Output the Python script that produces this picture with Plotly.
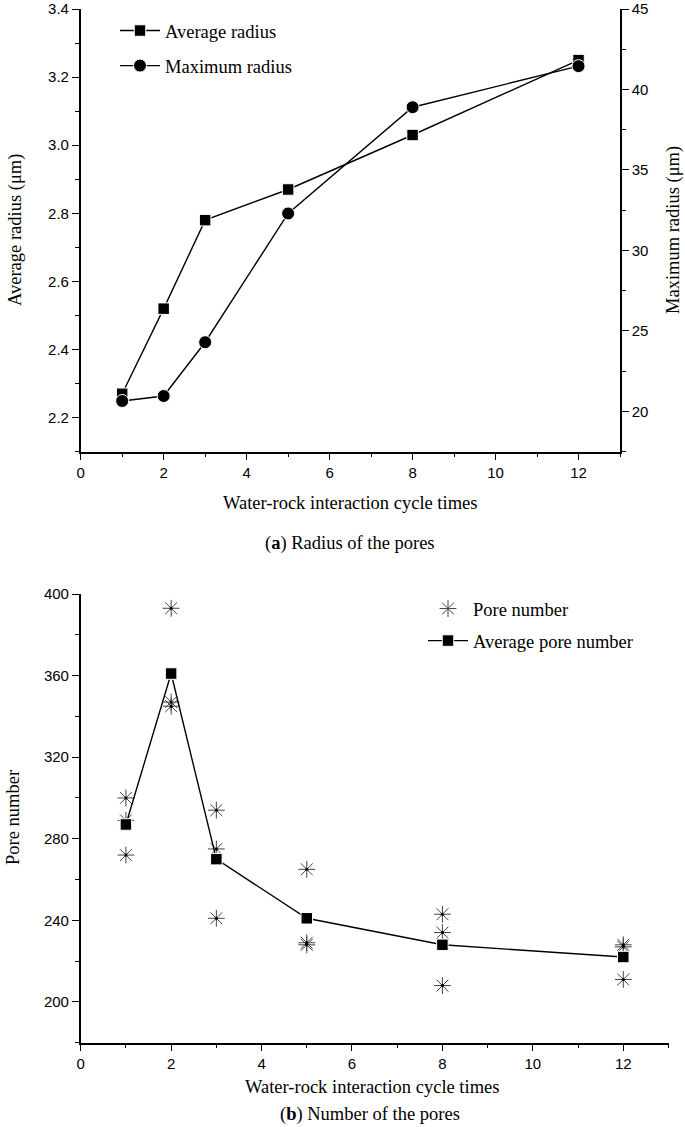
import plotly.graph_objects as go

W, H = 685, 1127

# ---------------- data ----------------
cycles = [1, 2, 3, 5, 8, 12]
avg_radius = [2.27, 2.52, 2.78, 2.87, 3.03, 3.25]        # µm, left axis
max_radius = [20.65, 20.96, 24.3, 32.3, 38.9, 41.45]     # µm, right axis

pore_cycles = [1, 1, 1, 2, 2, 2, 3, 3, 3, 5, 5, 5, 8, 8, 8, 12, 12, 12]
pore_number = [300, 289, 272, 393, 347, 345, 294, 275, 241,
               265, 229, 228, 243, 234, 208, 228, 227, 211]
avg_pore_number = [287, 361, 270, 241, 228, 222]

x_title = "Water-rock interaction cycle times"
caption_a = "(<b>a</b>) Radius of the pores"
caption_b = "(<b>b</b>) Number of the pores"


def px(x):
    return x / W


def py(y):
    return 1 - y / H


SERIF = "Liberation Serif, Times New Roman, serif"
SANS = "Liberation Sans, Arial, sans-serif"
TICKFONT = dict(family=SANS, size=15, color="black")
TXT = 18.5

fig = go.Figure()

# ---- top chart ----
fig.add_trace(go.Scatter(
    x=cycles, y=avg_radius, mode="lines+markers", name="Average radius",
    line=dict(color="black", width=1.4),
    marker=dict(symbol="square", size=11.5, color="black", line=dict(color="white", width=1)),
    xaxis="x", yaxis="y", legend="legend", legendgroup="a1"))
fig.add_trace(go.Scatter(
    x=cycles, y=max_radius, mode="lines+markers", name="Maximum radius",
    line=dict(color="black", width=1.4),
    marker=dict(symbol="circle", size=13, color="black", line=dict(color="white", width=1)),
    xaxis="x", yaxis="y2", legend="legend", legendgroup="a2"))

# ---- bottom chart ----
fig.add_trace(go.Scatter(
    x=pore_cycles, y=pore_number, mode="markers", name="Pore number",
    marker=dict(symbol="asterisk-open", size=14, color="#444",
                line=dict(color="#444", width=1)),
    xaxis="x3", yaxis="y3", legend="legend2", legendgroup="b1"))
fig.add_trace(go.Scatter(
    x=pore_cycles, y=pore_number, mode="markers", showlegend=False,
    marker=dict(symbol="circle", size=3, color="black"),
    xaxis="x3", yaxis="y3", hoverinfo="skip"))
fig.add_trace(go.Scatter(
    x=cycles, y=avg_pore_number, mode="lines+markers", name="Average pore number",
    line=dict(color="black", width=1.4),
    marker=dict(symbol="square", size=11.5, color="black", line=dict(color="white", width=1)),
    xaxis="x3", yaxis="y3", legend="legend2", legendgroup="b2"))

axis_common = dict(showline=True, linecolor="black", linewidth=1.5, showgrid=False,
                   zeroline=False, ticks="outside", ticklen=7, tickwidth=1.3,
                   tickcolor="black", tickfont=TICKFONT, automargin=False,
                   ticklabeloverflow="allow")
minor_common = dict(ticklen=4, ticks="outside", tickcolor="black", tickwidth=1.3)

fig.update_layout(
    width=W, height=H,
    margin=dict(l=0, r=0, t=0, b=0, autoexpand=False),
    paper_bgcolor="white", plot_bgcolor="white",
    xaxis=dict(domain=[px(80.7), px(620)], anchor="y", range=[0, 13], dtick=2, tick0=0,
               minor=dict(dtick=1, **minor_common), **axis_common),
    yaxis=dict(domain=[py(451.7), py(9)], anchor="x", range=[2.1, 3.4], dtick=0.2, tick0=2.2,
               tickformat=".1f", minor=dict(dtick=0.1, **minor_common), **axis_common),
    yaxis2=dict(overlaying="y", side="right", anchor="x", range=[17.5, 45], dtick=5, tick0=20,
                minor=dict(dtick=2.5, **minor_common), **axis_common),
    xaxis3=dict(domain=[px(80.7), px(668.5)], anchor="y3", range=[0, 13], dtick=2, tick0=0,
                minor=dict(dtick=1, **minor_common), **axis_common),
    yaxis3=dict(domain=[py(1042.7), py(594)], anchor="x3", range=[180, 400], dtick=40, tick0=200,
                minor=dict(dtick=20, **minor_common), **axis_common),
    legend=dict(x=px(115), y=py(12), xanchor="left", yanchor="top",
                bgcolor="rgba(0,0,0,0)", font=dict(family=SERIF, size=TXT, color="black"),
                itemwidth=40, traceorder="grouped", tracegroupgap=8),
    legend2=dict(x=px(423), y=py(590), xanchor="left", yanchor="top",
                 bgcolor="rgba(0,0,0,0)", font=dict(family=SERIF, size=TXT, color="black"),
                 itemwidth=40, traceorder="grouped", tracegroupgap=5),
    showlegend=True,
)

ann_font = dict(family=SERIF, size=TXT, color="black")
annotations = [
    dict(text="Average radius (μm)", x=px(15), y=py(230), textangle=-90),
    dict(text="Maximum radius (μm)", x=px(673), y=py(230), textangle=-90),
    dict(text=x_title, x=px(350), y=py(503)),
    dict(text=caption_a, x=px(350), y=py(543)),
    dict(text="Pore number", x=px(13), y=py(818), textangle=-90),
    dict(text=x_title, x=px(372), y=py(1087)),
    dict(text=caption_b, x=px(370), y=py(1114)),
]
for a in annotations:
    fig.add_annotation(xref="paper", yref="paper", showarrow=False,
                       xanchor="center", yanchor="middle", font=ann_font, **a)

# remove the browser's default 8px body margin so the figure fills the window
fig.write_html("out.html", config={"displayModeBar": False},
               post_script="document.body.style.margin='0';")
